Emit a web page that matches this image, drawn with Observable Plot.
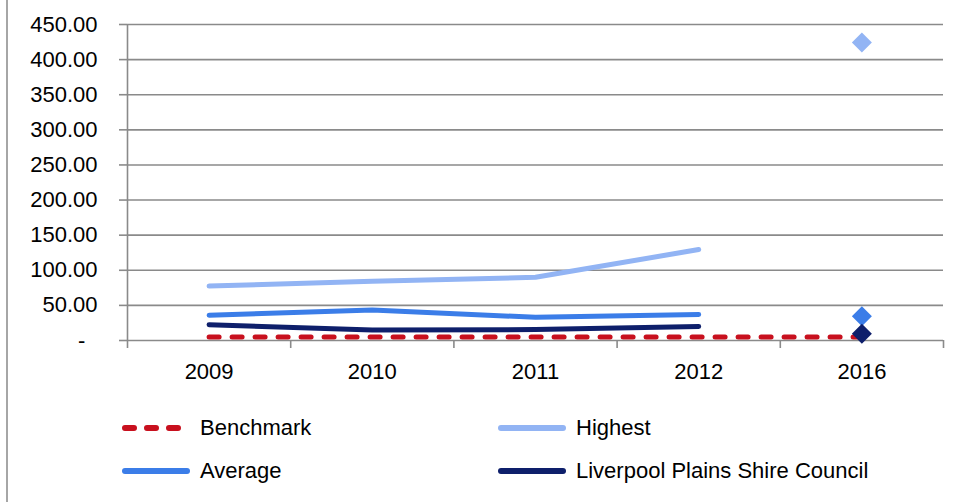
<!DOCTYPE html>
<html>
<head>
<meta charset="utf-8">
<script src="https://cdn.jsdelivr.net/npm/d3@7"></script>
<script src="https://cdn.jsdelivr.net/npm/@observablehq/plot@0.6"></script>
<style>
  html, body { margin: 0; padding: 0; background: #fff; }
  body { width: 960px; height: 502px; overflow: hidden; font-family: "Liberation Sans", Arial, sans-serif; }
  #wrap { position: relative; width: 960px; height: 502px; }
  #border { position: absolute; left: 6px; top: 0; width: 0; height: 502px; border-left: 2px solid #a6a6a6; }
  #chart { position: absolute; left: 0; top: 0; }
  .leg { position: absolute; font-size: 22px; color: #000; line-height: 1; white-space: nowrap; display: flex; align-items: center; }
  .leg svg { margin-right: 8px; }
</style>
</head>
<body>
<div id="wrap">
  <div id="border"></div>
  <div id="chart"></div>
  <div id="legend"></div>
</div>
<script>
// ---- data ----
const years = ["2009", "2010", "2011", "2012", "2016"];
const benchmark = [5, 5, 5, 5, 5];
const highest = [77.5, 84.5, 90, 129.5, 424.5];
const average = [36, 43.5, 33, 37, 34.5];
const liverpool = [22.5, 15, 15.5, 20, 9.5];
const yTicks = [0, 50, 100, 150, 200, 250, 300, 350, 400, 450];

const seriesNames = ["Benchmark", "Highest", "Average", "Liverpool Plains Shire Council"];
const seriesColors = ["#c8101e", "#92b4f4", "#3b7de8", "#0e1f6b"];
const seriesValues = [benchmark, highest, average, liverpool];

// years 2009-2012 joined by lines; 2016 shown as a separate marker
const lineYears = 4;

const lineRows = [];
const dotRows = [];
seriesNames.forEach((name, s) => {
  seriesValues[s].forEach((v, i) => {
    const row = {series: name, year: years[i], idx: i + 0.5, value: v};
    if (s === 0) lineRows.push(row);            // benchmark spans all categories
    else if (i < lineYears) lineRows.push(row);
    else dotRows.push(row);
  });
});

const centers = years.map((_, i) => i + 0.5);
const bounds = d3.range(0, years.length + 1);

const chart = Plot.plot({
  width: 960,
  height: 395,
  marginLeft: 127,
  marginRight: 17,
  marginTop: 24,
  marginBottom: 55,
  style: {fontFamily: "'Liberation Sans', Arial, sans-serif", fontSize: "22px", color: "#000", background: "transparent"},
  x: {type: "linear", domain: [0, years.length], label: null},
  y: {domain: [0, 450], label: null},
  color: {domain: seriesNames, range: seriesColors},
  marks: [
    Plot.gridY(yTicks, {stroke: "#8a8a8a", strokeOpacity: 1, strokeWidth: 1.6}),
    Plot.axisY(yTicks, {tickSize: 8, tickPadding: 22, stroke: "#8a8a8a", strokeWidth: 1.6, label: null,
      tickFormat: d => d === 0 ? "-\u2007" : d.toFixed(2), fill: "#000", fontSize: 22}),
    Plot.ruleX([0], {stroke: "#8a8a8a", strokeWidth: 1.6}),
    Plot.axisX(bounds, {tickSize: 8, tickFormat: () => "", stroke: "#8a8a8a", strokeWidth: 1.6, label: null}),
    Plot.axisX(centers, {tickSize: 0, tickPadding: 23, tickFormat: d => years[Math.floor(d)], fill: "#000", fontSize: 22, label: null}),
    Plot.line(lineRows.filter(d => d.series === "Benchmark"), {
      x: "idx", y: "value", stroke: seriesColors[0], strokeWidth: 5,
      strokeDasharray: "10,13", strokeLinecap: "round"}),
    Plot.line(lineRows.filter(d => d.series !== "Benchmark"), {
      x: "idx", y: "value", z: "series", stroke: "series", strokeWidth: 5,
      strokeLinecap: "round", strokeLinejoin: "round"}),
    Plot.dot(dotRows, {x: "idx", y: "value", fill: "series", symbol: "diamond2", r: 9, stroke: "none"})
  ]
});
document.getElementById("chart").appendChild(chart);

// ---- legend (HTML, below the SVG) ----
const legPos = [
  {left: 120, top: 428}, {left: 496, top: 428},
  {left: 120, top: 471}, {left: 496, top: 471}
];
const legend = document.getElementById("legend");
seriesNames.forEach((name, s) => {
  const item = document.createElement("div");
  item.className = "leg";
  item.style.left = legPos[s].left + "px";
  item.style.top = (legPos[s].top - 12) + "px";
  const dash = s === 0 ? 'stroke-dasharray="9,13"' : "";
  item.innerHTML = `<svg width="72" height="24"><line x1="5" y1="12" x2="67" y2="12" stroke="${seriesColors[s]}" stroke-width="6" stroke-linecap="round" ${dash}/></svg><span>${name}</span>`;
  legend.appendChild(item);
});
</script>
</body>
</html>
